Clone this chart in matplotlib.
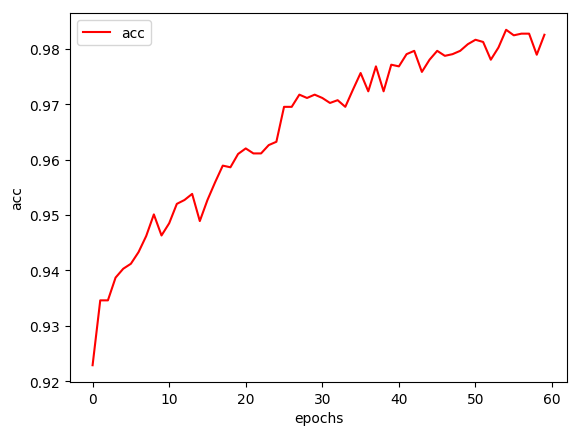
import matplotlib
matplotlib.use("Agg")
import matplotlib.pyplot as plt

epochs = list(range(60))
acc = [0.9229, 0.9346, 0.9346, 0.9387, 0.9403, 0.9412, 0.9433, 0.9462, 0.9501, 0.9463,
       0.9485, 0.9520, 0.9527, 0.9538, 0.9489, 0.9527, 0.9559, 0.9589, 0.9586, 0.9610,
       0.9620, 0.9611, 0.9611, 0.9626, 0.9632, 0.9695, 0.9695, 0.9717, 0.9711, 0.9717,
       0.9711, 0.9702, 0.9707, 0.9695, 0.9726, 0.9756, 0.9723, 0.9768, 0.9723, 0.9771,
       0.9768, 0.9790, 0.9796, 0.9758, 0.9780, 0.9796, 0.9787, 0.9790, 0.9796, 0.9808,
       0.9816, 0.9812, 0.9780, 0.9802, 0.9834, 0.9824, 0.9827, 0.9827, 0.9789, 0.9825]

W, H = 578, 431
fig = plt.figure(figsize=(W / 100, H / 100), dpi=100)
ax = fig.add_axes([70 / W, (H - 383) / H, 497 / W, 369 / H])
ax.plot(epochs, acc, color="red", label="acc")
ax.set_xlabel("epochs")
ax.set_ylabel("acc")
ax.legend(loc="upper left")
fig.savefig("out.png", dpi=100)
